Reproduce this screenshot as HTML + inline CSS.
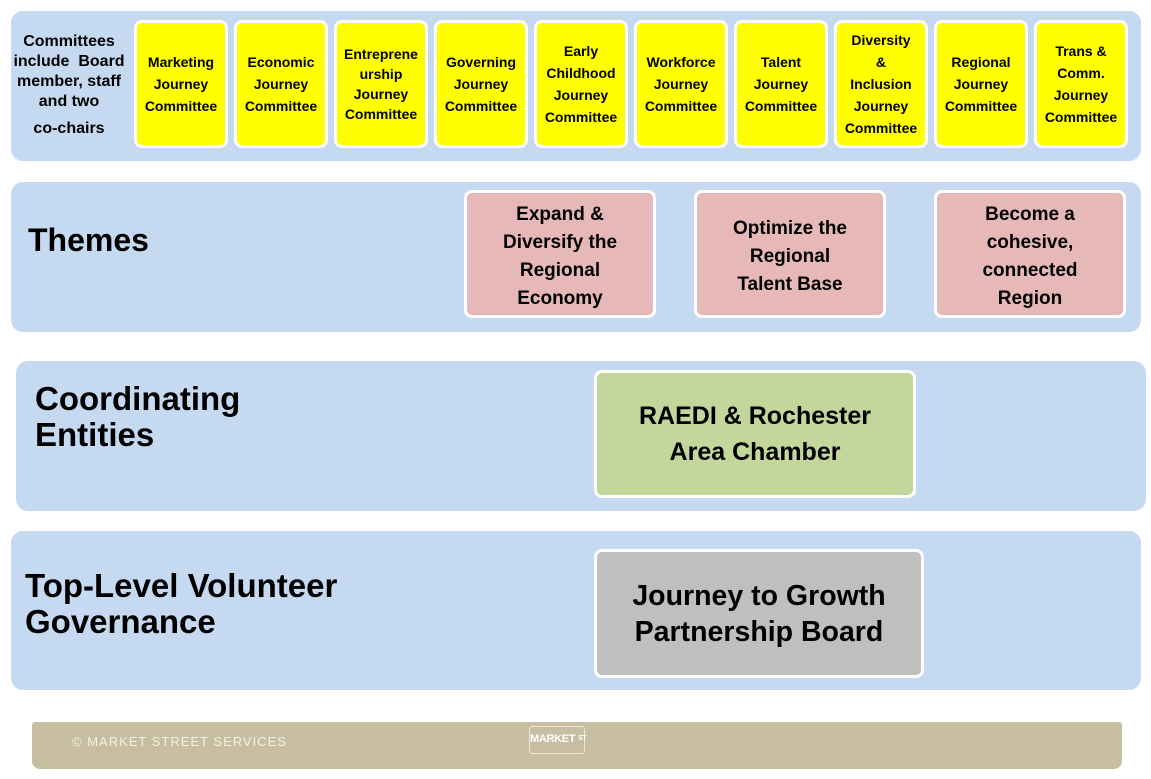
<!DOCTYPE html>
<html><head><style>
body{margin:0;width:1151px;height:779px;background:#fff;position:relative;font-family:"Liberation Sans",sans-serif;font-weight:bold;overflow:hidden}
.band{position:absolute;background:#c5d9f0;border-radius:12px}
.b{position:absolute;box-sizing:border-box;border:3px solid #fff;border-radius:8px;display:flex;align-items:center;justify-content:center;text-align:center;color:#000}
.y{background:#ffff00;top:20px;width:94px;height:128px;font-size:14px;line-height:22px}
.lbl{position:absolute;color:#000}
</style></head><body>
<div class="band" style="left:11px;top:11px;width:1130px;height:150px"></div>
<div class="lbl" style="left:6px;top:32px;width:126px;text-align:center;font-size:16px;line-height:20px">Committees include &nbsp;Board member, staff and two<br><span style="line-height:34px">co-chairs</span></div>
<div class="b y" style="left:134px">Marketing<br>Journey<br>Committee</div>
<div class="b y" style="left:234px">Economic<br>Journey<br>Committee</div>
<div class="b y" style="left:334px;line-height:20px">Entreprene<br>urship<br>Journey<br>Committee</div>
<div class="b y" style="left:434px">Governing<br>Journey<br>Committee</div>
<div class="b y" style="left:534px">Early<br>Childhood<br>Journey<br>Committee</div>
<div class="b y" style="left:634px">Workforce<br>Journey<br>Committee</div>
<div class="b y" style="left:734px">Talent<br>Journey<br>Committee</div>
<div class="b y" style="left:834px">Diversity<br>&amp;<br>Inclusion<br>Journey<br>Committee</div>
<div class="b y" style="left:934px">Regional<br>Journey<br>Committee</div>
<div class="b y" style="left:1034px">Trans &amp;<br>Comm.<br>Journey<br>Committee</div>

<div class="band" style="left:11px;top:182px;width:1130px;height:150px"></div>
<div class="lbl" style="left:28px;top:222px;font-size:32px">Themes</div>
<div class="b" style="left:464px;top:190px;width:192px;height:128px;background:#e6b8b7;font-size:19px;line-height:28px;padding-top:6px">Expand &amp;<br>Diversify the<br>Regional<br>Economy</div>
<div class="b" style="left:694px;top:190px;width:192px;height:128px;background:#e6b8b7;font-size:19px;line-height:28px;padding-top:6px">Optimize the<br>Regional<br>Talent Base</div>
<div class="b" style="left:934px;top:190px;width:192px;height:128px;background:#e6b8b7;font-size:19px;line-height:28px;padding-top:6px">Become a<br>cohesive,<br>connected<br>Region</div>

<div class="band" style="left:16px;top:361px;width:1130px;height:150px"></div>
<div class="lbl" style="left:35px;top:381px;font-size:33px;line-height:36px">Coordinating<br>Entities</div>
<div class="b" style="left:594px;top:370px;width:322px;height:128px;background:#c3d69b;font-size:25px;line-height:36px">RAEDI &amp; Rochester<br>Area Chamber</div>

<div class="band" style="left:11px;top:531px;width:1130px;height:159px"></div>
<div class="lbl" style="left:25px;top:568px;font-size:33px;line-height:36px">Top-Level Volunteer<br>Governance</div>
<div class="b" style="left:594px;top:549px;width:330px;height:129px;background:#bfbfbf;font-size:28.5px;line-height:36px">Journey to Growth<br>Partnership Board</div>

<div style="position:absolute;left:32px;top:722px;width:1090px;height:47px;background:#c7bea2;border-radius:3px 3px 8px 8px"></div>
<div class="lbl" style="left:72px;top:734px;font-size:13px;color:#f4f0e4;font-weight:normal;letter-spacing:1px">© MARKET STREET SERVICES</div>
<div style="position:absolute;left:529px;top:726px;width:54px;height:26px;border:1px solid #ece6d4;border-radius:3px;color:#fff;font-size:11px;text-align:center;line-height:24px;white-space:nowrap;letter-spacing:-0.3px">MARKET <span style="font-size:7px;vertical-align:top">ST</span></div>
</body></html>
